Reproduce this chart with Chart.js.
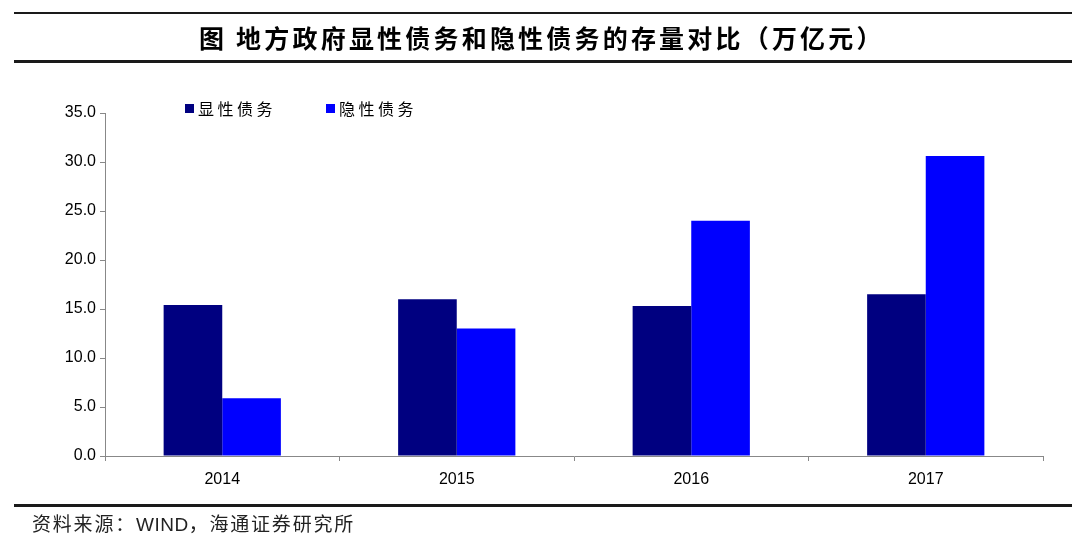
<!DOCTYPE html>
<html>
<head>
<meta charset="utf-8">
<script src="https://cdn.jsdelivr.net/npm/chart.js@4/dist/chart.umd.min.js"></script>
<style>
  html, body { margin: 0; padding: 0; background: #fff; }
  #wrap { position: relative; width: 1080px; height: 549px; overflow: hidden; }
  #chart { position: absolute; left: 0; top: 0; }
  .rule { position: absolute; left: 14px; width: 1058px; background: #1a1a1a; }
  #title { position: absolute; left: 199px; top: 22px; font: bold 25px "Noto Sans CJK SC", sans-serif;
           letter-spacing: 3.2px; color: #000; line-height: 30px; white-space: nowrap; }
  #source { position: absolute; left: 32px; top: 510px; font: 19px "Noto Sans CJK SC", sans-serif;
            letter-spacing: 1.8px; color: #222; line-height: 26px; white-space: nowrap; }
  #source .en { font-family: "Liberation Sans", Arial, sans-serif; letter-spacing: 0.5px; }
</style>
</head>
<body>
<div id="wrap">
  <canvas id="chart" width="1080" height="549"></canvas>
  <div class="rule" style="top:12px;height:2px"></div>
  <div id="title">图&nbsp;地方政府显性债务和隐性债务的存量对比（万亿元）</div>
  <div class="rule" style="top:60px;height:3px"></div>
  <div class="rule" style="top:504px;height:3px"></div>
  <div id="source">资料来源：<span class="en">WIND</span>，海通证券研究所</div>
</div>
<script>
const years = ['2014', '2015', '2016', '2017'];
const explicitDebt = [15.4, 16.0, 15.3, 16.5];
const hiddenDebt = [5.9, 13.0, 24.0, 30.6];
const seriesNames = ['显性债务', '隐性债务'];
const seriesColors = ['#000080', '#0000FF'];
const yTicks = { min: 0, max: 35, step: 5 };

// legend drawn inside the plot, top left
const legendPlugin = {
    id: 'topLegend',
    afterDraw(chart) {
        const ctx = chart.ctx;
        const spots = [185, 326];
        ctx.save();
        ctx.font = '16px "Noto Sans CJK SC", sans-serif';
        ctx.letterSpacing = '3.5px';
        ctx.textBaseline = 'middle';
        chart.data.datasets.forEach(function (ds, i) {
            let x = spots[i];
            ctx.fillStyle = ds.backgroundColor;
            ctx.fillRect(x, 104, 9, 9);
            ctx.fillStyle = '#000';
            ctx.fillText(ds.label, x + 13, 109);
        });
        ctx.restore();
    }
};

new Chart(document.getElementById('chart'), {
    type: 'bar',
    data: {
        labels: years,
        datasets: [{
            label: seriesNames[0],
            data: explicitDebt,
            backgroundColor: seriesColors[0],
            borderWidth: 0
        }, {
            label: seriesNames[1],
            data: hiddenDebt,
            backgroundColor: seriesColors[1],
            borderWidth: 0
        }]
    },
    options: {
        responsive: false,
        animation: false,
        devicePixelRatio: 1,
        categoryPercentage: 0.5,
        barPercentage: 1.0,
        layout: { padding: { left: 0, right: 37, top: 113, bottom: 63 } },
        plugins: { legend: { display: false }, tooltip: { enabled: false } },
        scales: {
            x: {
                afterFit: function (s) { s.height = 30; },
                grid: { offset: true, drawOnChartArea: false, tickLength: 5, color: '#888' },
                border: { color: '#888', width: 1 },
                ticks: { color: '#000', padding: 9, font: { family: '"Liberation Sans", Arial, sans-serif', size: 16 } }
            },
            y: {
                min: yTicks.min,
                max: yTicks.max,
                afterFit: function (s) { s.width = 105; },
                grid: { drawOnChartArea: false, tickLength: 5, color: '#888' },
                border: { color: '#888', width: 1 },
                ticks: {
                    stepSize: yTicks.step,
                    color: '#000',
                    padding: 4,
                    font: { family: '"Liberation Sans", Arial, sans-serif', size: 16 },
                    callback: function (v) { return v.toFixed(1); }
                }
            }
        }
    },
    plugins: [legendPlugin]
});
</script>
</body>
</html>
